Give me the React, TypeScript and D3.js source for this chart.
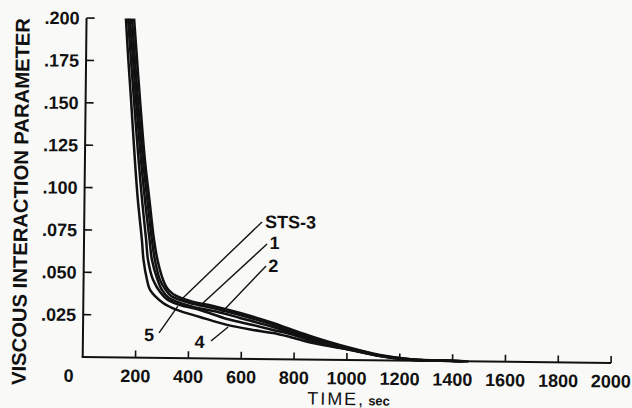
import React from 'react';
import * as d3 from 'd3';

// ---- data (time in sec, viscous interaction parameter) ----
const timeTicks = [200, 400, 600, 800, 1000, 1200, 1400, 1600, 1800, 2000];
const valueTicks = [0.025, 0.05, 0.075, 0.1, 0.125, 0.15, 0.175, 0.2];
const valueTickLabels = ['.025', '.050', '.075', '.100', '.125', '.150', '.175', '.200'];

const sts3: [number, number][] = [
  [180, 0.2], [193, 0.1756], [206, 0.152], [227, 0.1166], [246, 0.093], [265, 0.0695],
  [279, 0.0577], [301, 0.046], [316, 0.0413], [339, 0.0378], [404, 0.0338], [491, 0.031],
  [594, 0.027], [719, 0.0213], [783, 0.0179], [871, 0.0134], [1000, 0.0077], [1125, 0.0032],
  [1250, 0.0008], [1390, 0.0002], [1460, 0],
];
const flight1: [number, number][] = [
  [172, 0.2], [185, 0.1756], [198, 0.152], [220, 0.1166], [238, 0.093], [257, 0.0695],
  [269, 0.0577], [289, 0.046], [309, 0.0407], [332, 0.0366], [404, 0.0326], [491, 0.0298],
  [594, 0.0258], [719, 0.0202], [784, 0.0167], [871, 0.0125], [1000, 0.0073], [1125, 0.0029],
  [1250, 0.0007], [1390, 0.0002], [1450, 0],
];
const flight2: [number, number][] = [
  [164, 0.2], [178, 0.1756], [191, 0.152], [212, 0.1166], [229, 0.093], [248, 0.0695],
  [258, 0.0577], [280, 0.046], [297, 0.0401], [324, 0.0354], [404, 0.0308], [525, 0.0269],
  [594, 0.0241], [719, 0.019], [784, 0.0159], [871, 0.0116], [1000, 0.0068], [1125, 0.0026],
  [1250, 0.0005], [1390, 0.0002], [1440, 0],
];
const flight5: [number, number][] = [
  [157, 0.2], [170, 0.1756], [183, 0.152], [203, 0.1166], [218, 0.093], [235, 0.0695],
  [243, 0.0577], [263, 0.046], [290, 0.0389], [320, 0.0342], [366, 0.0313], [442, 0.0285],
  [545, 0.0234], [643, 0.02], [719, 0.0172], [784, 0.015], [871, 0.011], [1000, 0.0063],
  [1125, 0.0027], [1250, 0.0006], [1390, 0.0002], [1440, 0],
];
const flight4: [number, number][] = [
  [149, 0.2], [160, 0.1756], [172, 0.152], [189, 0.1166], [202, 0.093], [219, 0.0695],
  [226, 0.0577], [240, 0.046], [252, 0.04], [302, 0.0324], [355, 0.0284], [442, 0.0244],
  [545, 0.0199], [643, 0.0171], [719, 0.0154], [784, 0.0132], [871, 0.0098], [974, 0.007],
  [1038, 0.0054], [1125, 0.0025], [1250, 0.0005], [1390, 0.0001], [1430, 0],
];
const series = [sts3, flight1, flight2, flight5, flight4];

// annotation labels: text, time, value, anchor
const labelTexts = ['STS-3', '1', '2', '5', '4'];
const labelTimes = [684, 721, 718, 250, 442];
const labelValues = [0.0773, 0.065, 0.0514, 0.0099, 0.0061];
const labelAnchors = ['start', 'middle', 'middle', 'middle', 'middle'];
// leader lines: [from label, to curve]
const leaders: [number, number][][] = [
  [[673, 0.0809], [370, 0.0345]],
  [[693, 0.0679], [453, 0.0327]],
  [[690, 0.0549], [522, 0.0269]],
  [[288, 0.0147], [358, 0.0307]],
  [[485, 0.0103], [549, 0.0187]],
];

const FONT = '"Liberation Sans", Arial, Helvetica, sans-serif';

export default function App() {
  const ox = 82.7;
  const oy = 357;
  const x = d3.scaleLinear().domain([0, 2000]).range([ox, 611.1]);
  const y = d3.scaleLinear().domain([0, 0.2]).range([oy, 18]);
  const line = d3
    .line<[number, number]>()
    .x((d) => x(d[0]))
    .y((d) => y(d[1]))
    .curve(d3.curveCatmullRom.alpha(0.5));
  const straight = d3
    .line<[number, number]>()
    .x((d) => x(d[0]))
    .y((d) => y(d[1]));

  return (
    <svg
      width={632}
      height={408}
      style={{ position: 'absolute', left: 0, top: 0, background: '#f9f9f7' }}
      fontFamily={FONT}
    >
      <g transform={`rotate(0.65 ${ox} ${oy})`}>
        {/* axes */}
        <line x1={ox} y1={y(0.2)} x2={ox} y2={oy} stroke="#111" strokeWidth={2} />
        <line x1={ox - 1} y1={oy} x2={x(2000)} y2={oy} stroke="#111" strokeWidth={2} />
        {valueTicks.map((v, i) => (
          <g key={'yt' + i}>
            <line x1={ox} y1={y(v)} x2={ox + 8} y2={y(v)} stroke="#111" strokeWidth={1.6} />
            <text x={ox - 7} y={y(v) + 6.5} textAnchor="end" fontSize={18} fontWeight="bold" fill="#111">
              {valueTickLabels[i]}
            </text>
          </g>
        ))}
        <text x={ox - 9} y={oy + 25} textAnchor="end" fontSize={18} fontWeight="bold" fill="#111">
          0
        </text>
        {timeTicks.map((t) => (
          <g key={'xt' + t}>
            <line x1={x(t)} y1={oy} x2={x(t)} y2={oy - 7} stroke="#111" strokeWidth={1.6} />
            <text x={x(t)} y={oy + 24.5} textAnchor="middle" fontSize={18} fontWeight="bold" fill="#111">
              {t}
            </text>
          </g>
        ))}
        {/* axis titles */}
        <text x={x(1008)} y={oy + 45} textAnchor="middle" fill="#111">
          <tspan fontSize={18} letterSpacing={2}>TIME,</tspan>
          <tspan fontSize={13} fontWeight="bold" dx={3}>sec</tspan>
        </text>
        <text
          transform={`translate(25.9, 202.2) rotate(-90)`}
          textAnchor="middle"
          fontSize={20}
          fontWeight="bold"
          fill="#111"
          textLength={367}
          lengthAdjust="spacingAndGlyphs"
        >
          VISCOUS INTERACTION PARAMETER
        </text>
        {/* curves */}
        {series.map((s, i) => (
          <path key={'s' + i} d={line(s) || ''} fill="none" stroke="#111" strokeWidth={2.5} />
        ))}
        {/* leaders */}
        {leaders.map((l, i) => (
          <path key={'l' + i} d={straight(l) || ''} fill="none" stroke="#111" strokeWidth={1.4} />
        ))}
        {labelTexts.map((txt, i) => (
          <text
            key={'lab' + i}
            x={x(labelTimes[i])}
            y={y(labelValues[i])}
            textAnchor={labelAnchors[i] as any}
            fontSize={18}
            fontWeight="bold"
            fill="#111"
          >
            {txt}
          </text>
        ))}
      </g>
    </svg>
  );
}
